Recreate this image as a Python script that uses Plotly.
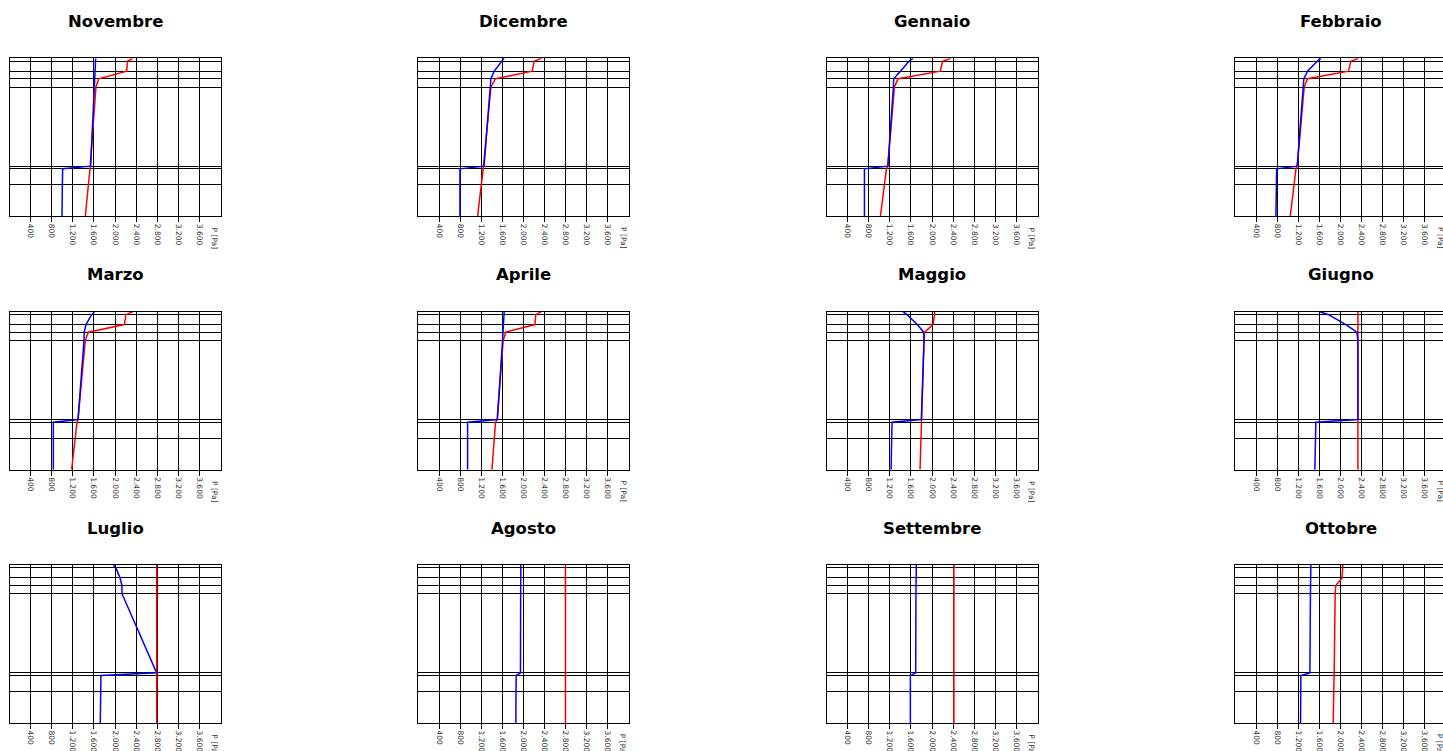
import numpy as np
import plotly.graph_objects as go

# --- data -------------------------------------------------------------------
months = ["Novembre", "Dicembre", "Gennaio", "Febbraio",
          "Marzo", "Aprile", "Maggio", "Giugno",
          "Luglio", "Agosto", "Settembre", "Ottobre"]

# layer thicknesses of the wall build-up [cm], inside -> outside
layer_thickness_cm = [0.9, 3.0, 2.3, 2.5, 24.0, 0.8, 4.9, 9.5]

# saturation pressure at each layer interface [Pa]
p_sat = [
    [2334, 2239, 2220, 1690, 1639, 1538, 1526, 1495, 1437],  # Novembre
    [2341, 2202, 2164, 1470, 1382, 1252, 1237, 1200, 1129],  # Dicembre
    [2353, 2202, 2158, 1357, 1287, 1163, 1136, 1097, 1022],  # Gennaio
    [2334, 2196, 2151, 1375, 1312, 1180, 1155, 1118, 1047],  # Febbraio
    [2334, 2208, 2177, 1494, 1437, 1299, 1280, 1246, 1178],  # Marzo
    [2341, 2233, 2215, 1666, 1615, 1500, 1470, 1447, 1401],  # Aprile
    [2050, 2050, 2019, 1861, 1849, 1804, 1798, 1790, 1773],  # Maggio
    [2330, 2330, 2330, 2330, 2330, 2330, 2330, 2330, 2330],  # Giugno
    [2790, 2790, 2790, 2790, 2790, 2790, 2790, 2790, 2790],  # Luglio
    [2795, 2795, 2795, 2795, 2795, 2795, 2795, 2795, 2795],  # Agosto
    [2415, 2415, 2415, 2415, 2415, 2415, 2415, 2415, 2415],  # Settembre
    [2045, 2042, 2030, 1912, 1899, 1880, 1878, 1872, 1861],  # Ottobre
]

# vapour partial pressure at each layer interface [Pa]
p_vap = [
    [1634, 1630, 1622, 1615, 1608, 1538, 1008, 1002, 995],   # Novembre
    [1634, 1590, 1445, 1382, 1370, 1252, 795, 795, 795],     # Dicembre
    [1640, 1565, 1400, 1274, 1268, 1163, 719, 719, 719],     # Gennaio
    [1628, 1558, 1375, 1306, 1293, 1180, 789, 782, 776],     # Febbraio
    [1614, 1557, 1450, 1418, 1412, 1299, 831, 831, 831],     # Marzo
    [1634, 1630, 1620, 1610, 1603, 1505, 940, 940, 940],     # Aprile
    [1451, 1527, 1720, 1842, 1849, 1798, 1243, 1235, 1224],  # Maggio
    [1609, 1773, 2101, 2310, 2330, 2330, 1533, 1527, 1514],  # Giugno
    [1968, 2018, 2094, 2132, 2132, 2790, 1734, 1728, 1721],  # Luglio
    [1950, 1949, 1948, 1947, 1946, 1943, 1861, 1858, 1855],  # Agosto
    [1703, 1702, 1700, 1697, 1696, 1691, 1590, 1590, 1590],  # Settembre
    [1438, 1437, 1435, 1432, 1430, 1420, 1249, 1246, 1243],  # Ottobre
]

pressure_ticks = [400, 800, 1200, 1600, 2000, 2400, 2800, 3200, 3600]
pressure_max = 4000
unit_label = "P [Pa]"

depth = np.concatenate([[0.0], np.cumsum(layer_thickness_cm)])

# --- page geometry (pixels) -------------------------------------------------
W, H = 1443, 751
col_left = [9.5, 418.0, 826.5, 1235.0]
row_top = [58.3, 311.7, 565.0]
panel_w, panel_h = 211.0, 158.0
px_per_pa = panel_w / pressure_max

font_family = "DejaVu Sans"

fig = go.Figure()
layout = dict(
    width=W, height=H,
    margin=dict(l=0, r=0, t=0, b=0),
    paper_bgcolor="white", plot_bgcolor="white",
    showlegend=False,
    separators=",.",
    font=dict(family=font_family, color="#222222"),
)
annotations = []

for i, month in enumerate(months):
    r, c = divmod(i, 4)
    k = "" if i == 0 else str(i + 1)
    x0 = col_left[c]
    x1 = min(x0 + panel_w, W)
    y_top = row_top[r]
    y_bot = y_top + panel_h
    x_end = (x1 - x0) / px_per_pa

    layout["xaxis" + k] = dict(
        domain=[x0 / W, x1 / W],
        range=[0, x_end],
        anchor="y" + k,
        tickmode="array", tickvals=pressure_ticks, tickformat=",d",
        tickangle=90,
        tickfont=dict(size=7.5, family=font_family, color="#333333"),
        ticks="outside", ticklen=5, tickwidth=1, tickcolor="black",
        showgrid=True, gridcolor="black", gridwidth=1,
        showline=True, linecolor="black", linewidth=1, mirror=True,
        zeroline=False, fixedrange=True, automargin=False,
    )
    layout["yaxis" + k] = dict(
        domain=[1 - y_bot / H, 1 - y_top / H],
        range=[depth[-1], 0],
        anchor="x" + k,
        tickmode="array", tickvals=list(depth), showticklabels=False,
        ticks="",
        showgrid=True, gridcolor="black", gridwidth=1,
        showline=True, linecolor="black", linewidth=1,
        mirror=(c < 3),
        zeroline=False, fixedrange=True, automargin=False,
    )

    fig.add_trace(go.Scatter(
        x=p_sat[i], y=depth, mode="lines",
        line=dict(color="#ff0000", width=1.5),
        xaxis="x" + k, yaxis="y" + k, hoverinfo="skip",
    ))
    fig.add_trace(go.Scatter(
        x=p_vap[i], y=depth, mode="lines",
        line=dict(color="#0000ff", width=1.5),
        xaxis="x" + k, yaxis="y" + k, hoverinfo="skip",
    ))

    # month title
    annotations.append(dict(
        text="<b>" + month + "</b>",
        x=(x0 + panel_w / 2) / W, y=1 - (y_top - 37) / H,
        xref="paper", yref="paper", xanchor="center", yanchor="middle",
        showarrow=False, font=dict(size=16.5, family=font_family, color="black"),
    ))
    # unit label at the end of the pressure axis
    annotations.append(dict(
        text=unit_label,
        x=pressure_max - 5.8 / px_per_pa, xref="x" + k,
        y=1 - (y_bot + 9) / H, yref="paper",
        xanchor="center", yanchor="top", textangle=90,
        showarrow=False, font=dict(size=7.5, family=font_family, color="#333333"),
    ))

layout["annotations"] = annotations
fig.update_layout(**layout)
fig.write_html("out.html")
